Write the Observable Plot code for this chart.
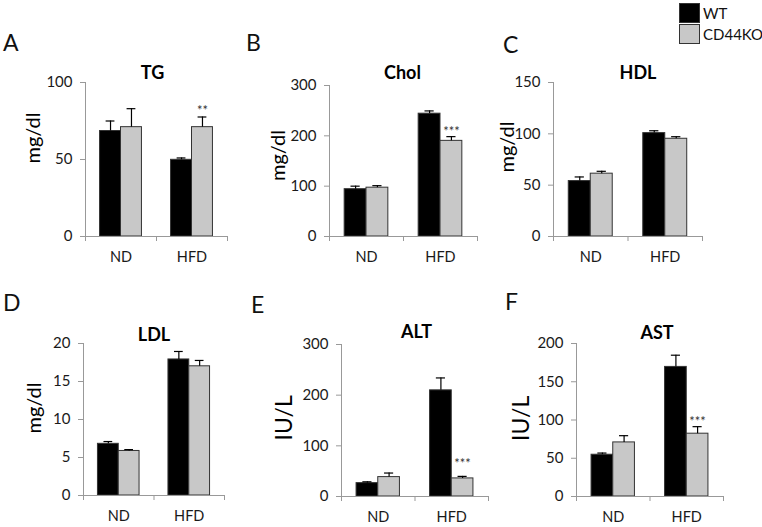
<!DOCTYPE html>
<html><head><meta charset="utf-8">
<script src="https://cdn.jsdelivr.net/npm/d3@7"></script>
<script src="https://cdn.jsdelivr.net/npm/@observablehq/plot@0.6"></script>
<style>
body{margin:0;background:#fff;font-family:Lato,"Open Sans",sans-serif;}
#chart{position:relative;width:762px;height:527px;overflow:hidden;background:#fff;}
#chart svg{position:absolute;}
.letter{position:absolute;font-size:23px;line-height:23px;color:#111;}
.sw{position:absolute;width:19px;height:18px;border:1px solid #333;}
.lg{position:absolute;font-size:15px;line-height:20px;height:20px;color:#111;}
</style></head><body><div id="chart"></div>
<script>
// ---- data ----
const diets = ["ND", "HFD"];
const groups = ["WT", "CD44KO"];
const colors = ["#000000", "#c8c8c8"];
const panelNames = ["TG", "Chol", "HDL", "LDL", "ALT", "AST"];
const letters = ["A", "B", "C", "D", "E", "F"];
const units = ["mg/dl", "mg/dl", "mg/dl", "mg/dl", "IU/L", "IU/L"];
const yMax = [100, 300, 150, 20, 300, 200];
const yTicks = [[0, 50, 100], [0, 100, 200, 300], [0, 50, 100, 150], [0, 5, 10, 15, 20], [0, 100, 200, 300], [0, 50, 100, 150, 200]];
const wtND = [68.5, 94, 54, 6.8, 26.4, 54.6];
const wtNDerr = [6.5, 6, 4, 0.3, 2.6, 2.2];
const koND = [71, 97, 61.2, 5.86, 38.3, 70.7];
const koNDerr = [12, 4, 2.3, 0.18, 8, 8.8];
const wtHFD = [49.8, 244, 100.7, 17.9, 209.5, 169.4];
const wtHFDerr = [1.2, 5.5, 2.3, 1.05, 24.5, 15.3];
const koHFD = [71, 190, 95.2, 17.0, 35.7, 82.1];
const koHFDerr = [6.6, 8.4, 2.0, 0.77, 4, 9.2];
const koHFDsig = ["**", "***", "", "", "***", "***"];

// ---- layout (pixel frames and offsets) ----
const layout = [
  {frame: [85, 227, 82, 236], title: [-4, -9], label: [-52, 4], letter: [4, 35], lift: 6, unitSize: 20},
  {frame: [329, 477, 85, 236], title: [-1, -12], label: [-51, 20], letter: [247, 35], lift: 5, unitSize: 20},
  {frame: [553, 702, 82, 236], title: [10, -9], label: [-46, 13], letter: [504, 37], lift: 5, unitSize: 20},
  {frame: [83, 224, 343, 495], title: [0, -8], label: [-49, 14], letter: [4, 295], lift: 5, unitSize: 20},
  {frame: [341, 488, 344, 496], title: [1.5, -12.5], label: [-57, 20], letter: [252, 297], lift: 13, unitSize: 23},
  {frame: [576, 723, 343, 496], title: [7, -10.5], label: [-55, 21], letter: [506, 294], lift: 5, unitSize: 23}
];
const BW = 0.295;   // bar width as a fraction of a category
const CAP = 0.062;  // half cap width as a fraction of a category
const ML = 80, MR = 20, MT = 60, MB = 35;

const chart = document.getElementById("chart");

function panelRows(p) {
  return [
    {diet: "ND", group: "WT", mean: wtND[p], err: wtNDerr[p], sig: ""},
    {diet: "ND", group: "CD44KO", mean: koND[p], err: koNDerr[p], sig: ""},
    {diet: "HFD", group: "WT", mean: wtHFD[p], err: wtHFDerr[p], sig: ""},
    {diet: "HFD", group: "CD44KO", mean: koHFD[p], err: koHFDerr[p], sig: koHFDsig[p]}
  ];
}
const slot = d => diets.indexOf(d.diet) + 0.5 + (d.group === "WT" ? -0.5 : 0.5) * BW;

panelNames.forEach((name, p) => {
  const L = layout[p];
  const [x0, x1, yT, yB] = L.frame;
  const rows = panelRows(p);
  const svg = Plot.plot({
    width: (x1 - x0) + ML + MR,
    height: (yB - yT) + MT + MB,
    marginLeft: ML, marginRight: MR, marginTop: MT, marginBottom: MB,
    style: {background: "transparent", overflow: "visible", fontFamily: "Lato, 'Open Sans', sans-serif", maxWidth: "none"},
    x: {domain: [0, 2]},
    y: {domain: [0, yMax[p]]},
    color: {domain: groups, range: colors},
    marks: [
      Plot.rectY(rows, {x1: d => slot(d) - BW / 2, x2: d => slot(d) + BW / 2, y1: 0, y2: "mean", fill: "group", stroke: "#333", strokeWidth: 1}),
      Plot.ruleX(rows, {x: slot, y1: "mean", y2: d => d.mean + d.err, stroke: "#000", strokeWidth: 1.2}),
      Plot.ruleY(rows, {y: d => d.mean + d.err, x1: d => slot(d) - CAP, x2: d => slot(d) + CAP, stroke: "#000", strokeWidth: 1.2}),
      Plot.text(rows.filter(d => d.sig), {x: slot, y: d => d.mean + d.err, text: "sig", dy: -L.lift, fontSize: 13, fill: "#333", lineAnchor: "middle"}),
      Plot.ruleY([0], {stroke: "#999"}),
      Plot.ruleX([0], {y1: 0, y2: yMax[p], stroke: "#999"}),
      Plot.axisY({ticks: yTicks[p], tickSize: 5, tickPadding: 8, stroke: "#999", fill: "#1a1a1a", fontSize: 15, label: null}),
      Plot.axisX({ticks: [0, 1, 2], tickSize: 5, tickFormat: () => "", stroke: "#999", label: null}),
      Plot.text(diets, {x: (d, i) => i + 0.5, frameAnchor: "bottom", dy: 21, text: d => d, fontSize: 14.5, fill: "#1a1a1a", lineAnchor: "middle"}),
      Plot.text([name], {frameAnchor: "top", dx: L.title[0], dy: L.title[1], text: d => d, fontWeight: "bold", fontSize: 18, fill: "#000", lineAnchor: "middle"}),
      Plot.text([units[p]], {frameAnchor: "left", dx: L.label[0], dy: L.label[1], rotate: -90, text: d => d, fontSize: L.unitSize, fill: "#000", lineAnchor: "middle"})
    ]
  });
  svg.style.left = (x0 - ML) + "px";
  svg.style.top = (yT - MT) + "px";
  chart.appendChild(svg);

  const lt = document.createElement("div");
  lt.className = "letter";
  lt.textContent = letters[p];
  lt.style.left = (L.letter[0] - 1) + "px";
  lt.style.top = (L.letter[1] - 3.9) + "px";
  chart.appendChild(lt);
});

// legend
groups.forEach((g, i) => {
  const sw = document.createElement("div");
  sw.className = "sw";
  sw.style.left = "679px";
  sw.style.top = (3 + i * 21) + "px";
  sw.style.background = colors[i];
  chart.appendChild(sw);
  const t = document.createElement("div");
  t.className = "lg";
  t.textContent = g;
  t.style.left = "703px";
  t.style.top = (3 + i * 21) + "px";
  chart.appendChild(t);
});
</script>
</body></html>
